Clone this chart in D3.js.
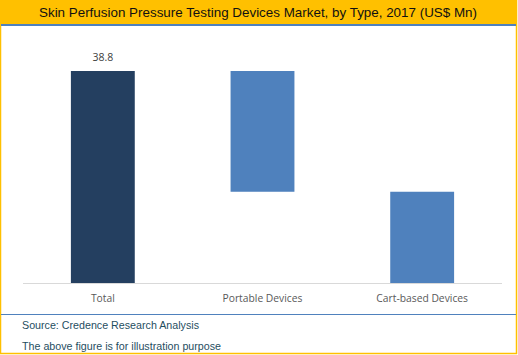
<!DOCTYPE html>
<html>
<head>
<meta charset="utf-8">
<script src="https://cdn.jsdelivr.net/npm/d3@7"></script>
<style>
html,body{margin:0;padding:0;background:#fff;}
svg{display:block;}
</style>
</head>
<body>
<svg id="chart" width="518" height="355"></svg>
<script>
const title = "Skin Perfusion Pressure Testing Devices Market, by Type, 2017 (US$ Mn)";
const categories = ["Total", "Portable Devices", "Cart-based Devices"];
const values = [38.8, 22.1, 16.7];
const isTotal = [true, false, false];
const valueLabels = ["38.8", "", ""];
const notes = ["Source: Credence Research Analysis", "The above figure is for illustration purpose"];

// waterfall starts/ends
const bars = [];
let running = 0;
categories.forEach((c, i) => {
  if (isTotal[i]) { bars.push({c, y0: 0, y1: values[i], total: true, label: valueLabels[i]}); running = values[i]; }
  else { bars.push({c, y0: running - values[i], y1: running, total: false, label: valueLabels[i]}); running -= values[i]; }
});

const svg = d3.select("#chart");
const W = 518, H = 355;

// frame
svg.append("rect").attr("x", 0).attr("y", 0).attr("width", W).attr("height", H).attr("fill", "#fff");
svg.append("rect").attr("x", 0).attr("y", 0).attr("width", 517).attr("height", 24).attr("fill", "#FFC000");
svg.append("rect").attr("x", 0.5).attr("y", 0.5).attr("width", 516).attr("height", 353).attr("fill", "none").attr("stroke", "#FFC000").attr("stroke-width", 1.5);
svg.append("rect").attr("x", 1).attr("y", 24).attr("width", 515).attr("height", 2).attr("fill", "#4F81BD");
svg.append("rect").attr("x", 1).attr("y", 314).attr("width", 515).attr("height", 1).attr("fill", "#4F81BD");

svg.append("text").attr("x", 39).attr("y", 17)
  .attr("font-family", "Liberation Sans, Arial, sans-serif").attr("font-size", 13.2)
  .attr("textLength", 438).attr("lengthAdjust", "spacingAndGlyphs")
  .attr("fill", "#111").text(title);

const x = d3.scaleBand().domain(categories).range([23, 502]).paddingInner(0.6).paddingOuter(0.3);
const y = d3.scaleLinear().domain([0, 38.8]).range([283, 71]);

svg.append("g").selectAll("rect").data(bars).join("rect")
  .attr("x", d => x(d.c)).attr("width", x.bandwidth())
  .attr("y", d => y(d.y1)).attr("height", d => y(d.y0) - y(d.y1))
  .attr("fill", d => d.total ? "#243F60" : "#4F81BD");

svg.append("line").attr("x1", 23).attr("x2", 502).attr("y1", 283.5).attr("y2", 283.5)
  .attr("stroke", "#D9D9D9").attr("stroke-width", 1);

svg.append("g").selectAll("text").data(bars.filter(d => d.label)).join("text")
  .attr("x", d => x(d.c) + x.bandwidth() / 2).attr("y", d => y(d.y1) - 10)
  .attr("text-anchor", "middle").attr("font-family", "Open Sans, sans-serif").attr("font-size", 10.5)
  .attr("fill", "#404040").text(d => d.label);

svg.append("g").selectAll("text").data(categories).join("text")
  .attr("x", d => x(d) + x.bandwidth() / 2).attr("y", 302)
  .attr("text-anchor", "middle").attr("font-family", "Open Sans, sans-serif").attr("font-size", 10.3)
  .attr("fill", "#595959").text(d => d);

svg.append("g").selectAll("text").data(notes).join("text")
  .attr("x", 22).attr("y", (d, i) => 329 + i * 21)
  .attr("font-family", "Liberation Sans, Arial, sans-serif").attr("font-size", 10.7)
  .attr("fill", "#1F4E5F").text(d => d);
</script>
</body>
</html>
